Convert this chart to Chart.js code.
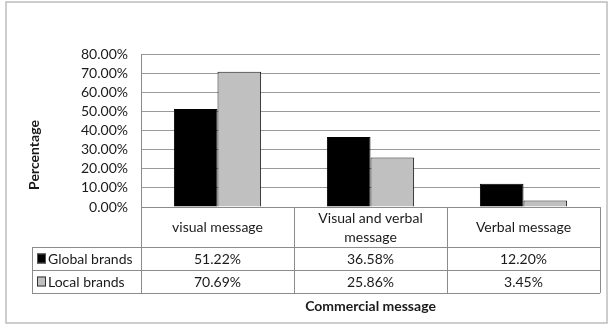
<!DOCTYPE html>
<html>
<head>
<meta charset="utf-8">
<script src="https://cdn.jsdelivr.net/npm/chart.js@4"></script>
<style>
  html, body { margin: 0; padding: 0; background: #fff; }
</style>
</head>
<body>
<canvas id="myChart" width="610" height="325"></canvas>
<script>
var categories = ["visual message", ["Visual and verbal", "message"], "Verbal message"];
var seriesNames = ["Global brands", "Local brands"];
var globalBrands = [51.22, 36.58, 12.20];
var localBrands = [70.69, 25.86, 3.45];
var yMax = 80;
var yStep = 10;

var FONT = "Lato, 'Open Sans', sans-serif";
var LINE = "#8c8c8c";

function pct(v) {
  return v.toFixed(2) + "%";
}

// draws the frame, the data table under the bars and both axis titles
var tablePlugin = {
  id: "dataTable",
  afterDraw: function (chart) {
    var c = chart.ctx;
    var area = chart.chartArea;
    var n = categories.length;
    var w = (area.right - area.left) / n;
    var headTop = area.bottom;
    var headBottom = headTop + 40;
    var rowH = 23;
    var legendLeft = 32;
    var tableBottom = headBottom + rowH * 2;

    c.save();
    // outer frame
    c.strokeStyle = "#bdbdbd";
    c.lineWidth = 1.5;
    c.strokeRect(6, 2, 601, 321);

    // grid of the table
    c.strokeStyle = LINE;
    c.lineWidth = 1;
    c.beginPath();
    c.moveTo(area.left, headTop + 0.5);
    c.lineTo(area.right, headTop + 0.5);
    for (var r = 0; r <= 2; r++) {
      var y = Math.round(headBottom + r * rowH) + 0.5;
      c.moveTo(legendLeft, y);
      c.lineTo(area.right, y);
    }
    for (var i = 0; i <= n; i++) {
      var x = Math.round(area.left + i * w) + 0.5;
      c.moveTo(x, headTop);
      c.lineTo(x, tableBottom);
    }
    c.moveTo(legendLeft + 0.5, headBottom);
    c.lineTo(legendLeft + 0.5, tableBottom);
    c.stroke();

    // category labels
    c.fillStyle = "#1a1a1a";
    c.font = "14px " + FONT;
    c.textAlign = "center";
    c.textBaseline = "middle";
    for (var j = 0; j < n; j++) {
      var cx = area.left + (j + 0.5) * w;
      var lab = categories[j];
      if (Array.isArray(lab)) {
        c.fillText(lab[0], cx, headTop + 11);
        c.fillText(lab[1], cx, headTop + 30);
      } else {
        c.fillText(lab, cx, (headTop + headBottom) / 2);
      }
    }

    // value rows with legend keys
    chart.data.datasets.forEach(function (ds, k) {
      var cy = headBottom + rowH * k + rowH / 2;
      c.fillStyle = ds.backgroundColor;
      c.fillRect(37, cy - 5, 9, 10);
      c.strokeStyle = k === 0 ? "#555" : "#333";
      c.strokeRect(37.5, cy - 4.5, 8, 9);
      c.fillStyle = "#1a1a1a";
      c.textAlign = "left";
      c.fillText(ds.label, 48, cy + 1);
      c.textAlign = "center";
      ds.data.forEach(function (v, j) {
        c.fillText(pct(v), area.left + (j + 0.5) * w, cy + 1);
      });
    });

    // axis titles
    c.font = "bold 14px " + FONT;
    c.fillText("Commercial message", (area.left + area.right) / 2, 306);
    c.translate(34, 155);
    c.rotate(-Math.PI / 2);
    c.fillText("Percentage", 0, 0);
    c.restore();
  }
};

var ctx = document.getElementById("myChart").getContext("2d");
var myChart = new Chart(ctx, {
  type: "bar",
  data: {
    labels: categories,
    datasets: [
      {
        label: seriesNames[0],
        data: globalBrands,
        backgroundColor: "#000000",
        borderColor: "#000000",
        borderWidth: 1
      },
      {
        label: seriesNames[1],
        data: localBrands,
        backgroundColor: "#c0c0c0",
        borderColor: "#1a1a1a",
        borderWidth: 1
      }
    ]
  },
  options: {
    responsive: false,
    animation: false,
    layout: {
      padding: { left: 22, right: 10, top: 54, bottom: 118 }
    },
    plugins: {
      legend: { display: false },
      tooltip: { enabled: false }
    },
    datasets: {
      bar: { categoryPercentage: 0.57, barPercentage: 1 }
    },
    scales: {
      x: {
        display: false
      },
      y: {
        min: 0,
        max: yMax,
        afterFit: function (scale) {
          scale.width = 119;
        },
        ticks: {
          stepSize: yStep,
          autoSkip: false,
          padding: 13,
          color: "#1a1a1a",
          font: { family: FONT, size: 14 },
          callback: function (v) {
            return pct(v);
          }
        },
        grid: {
          color: "#9a9a9a",
          drawTicks: false
        },
        border: { color: LINE }
      }
    }
  },
  plugins: [tablePlugin]
});
</script>
</body>
</html>
